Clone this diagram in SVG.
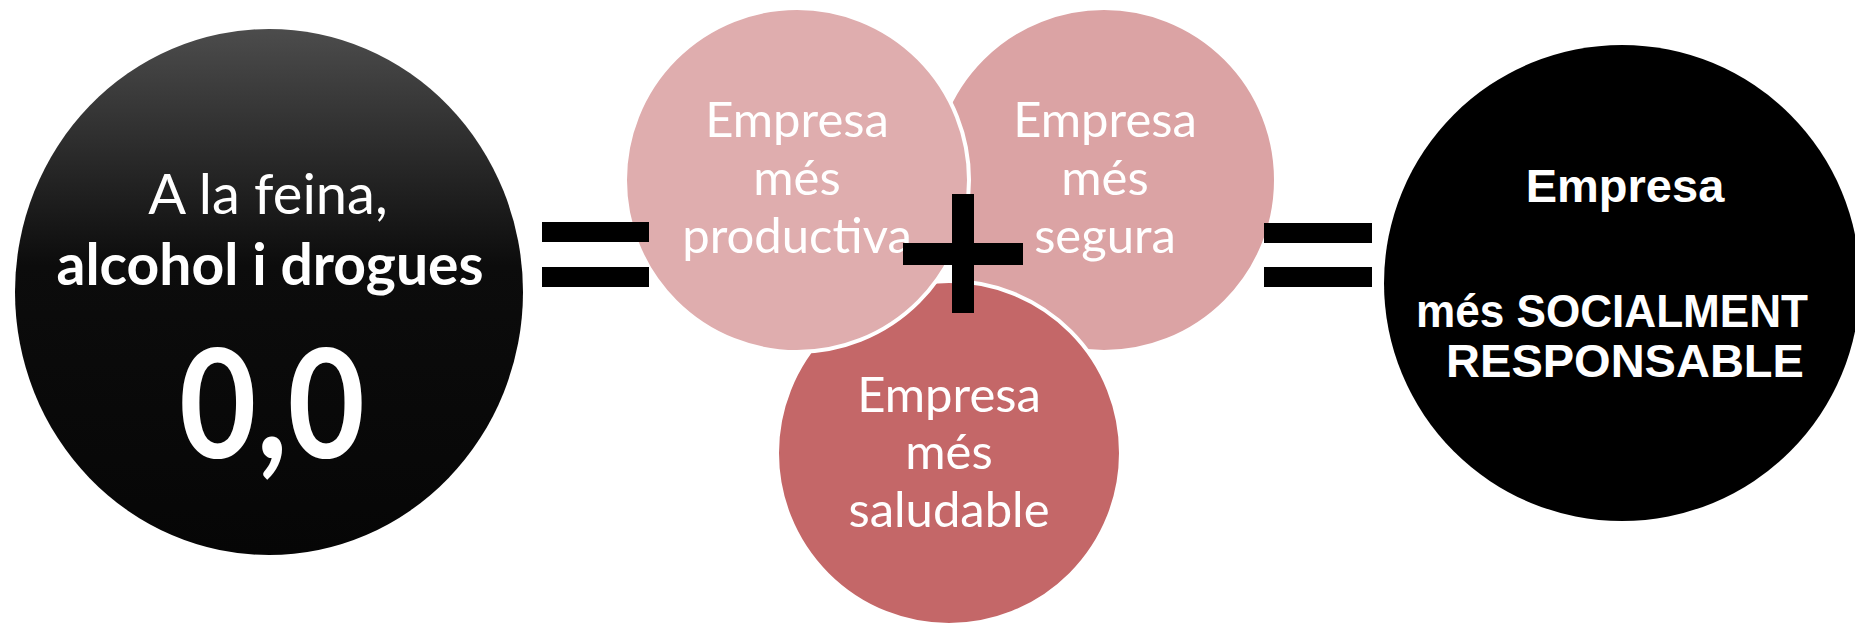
<svg xmlns="http://www.w3.org/2000/svg" width="1855" height="625" viewBox="0 0 1855 625">
<defs>
<linearGradient id="gDark" x1="0" y1="0" x2="0" y2="1">
<stop offset="0" stop-color="#4c4c4c"/>
<stop offset="0.45" stop-color="#0c0c0c"/>
<stop offset="1" stop-color="#060606"/>
</linearGradient>
<style>
.pink{stroke:#ffffff;stroke-width:4}
.ptxt{font-family:Lato,"Open Sans",sans-serif;font-size:49px;fill:#ffffff;text-anchor:middle}
.ltxt{font-family:Lato,"Open Sans",sans-serif;fill:#ffffff;text-anchor:middle}
.rtxt{font-family:"Liberation Sans",Arial,sans-serif;font-weight:bold;font-size:47px;fill:#ffffff;text-anchor:middle}
.op{fill:#000000}
</style>
</defs>
<rect width="1855" height="625" fill="#ffffff"/>

<g id="node-alcohol">
<ellipse cx="269" cy="292" rx="254" ry="263" fill="url(#gDark)"/>
<text class="ltxt" x="268" y="214" font-size="56">A la feina,</text>
<text class="ltxt" x="270" y="285" font-size="57" font-weight="bold">alcohol i drogues</text>
<text class="ltxt" x="272" y="458" font-size="152" font-weight="bold" textLength="186" lengthAdjust="spacingAndGlyphs">0,0</text>
</g>

<g id="node-segura">
<circle class="pink" cx="1104" cy="180" r="172" fill="#dba3a4"/>
<text class="ptxt" x="1105" y="137">Empresa</text>
<text class="ptxt" x="1105" y="195">més</text>
<text class="ptxt" x="1105" y="253">segura</text>
</g>

<g id="node-saludable">
<circle class="pink" cx="949" cy="453" r="172" fill="#c46768"/>
<text class="ptxt" x="949" y="412">Empresa</text>
<text class="ptxt" x="949" y="469">més</text>
<text class="ptxt" x="949" y="527">saludable</text>
</g>

<g id="node-productiva">
<circle class="pink" cx="797" cy="180" r="172" fill="#dfadae"/>
<text class="ptxt" x="797" y="137">Empresa</text>
<text class="ptxt" x="797" y="195">més</text>
<text class="ptxt" x="797" y="253">productiva</text>
</g>

<g id="node-responsable">
<circle cx="1622" cy="283" r="238" fill="#000000"/>
<text class="rtxt" x="1625" y="202">Empresa</text>
<text class="rtxt" x="1612" y="327" textLength="392" lengthAdjust="spacingAndGlyphs">més SOCIALMENT</text>
<text class="rtxt" x="1625" y="377">RESPONSABLE</text>
</g>

<g id="operators">
<g id="equals-left">
<rect class="op" x="542" y="222" width="107" height="20"/>
<rect class="op" x="542" y="267" width="107" height="20"/>
</g>
<g id="plus">
<rect class="op" x="903" y="243" width="120" height="22"/>
<rect class="op" x="952" y="194" width="22" height="119"/>
</g>
<g id="equals-right">
<rect class="op" x="1264" y="223" width="108" height="20"/>
<rect class="op" x="1264" y="267" width="108" height="20"/>
</g>
</g>
</svg>
